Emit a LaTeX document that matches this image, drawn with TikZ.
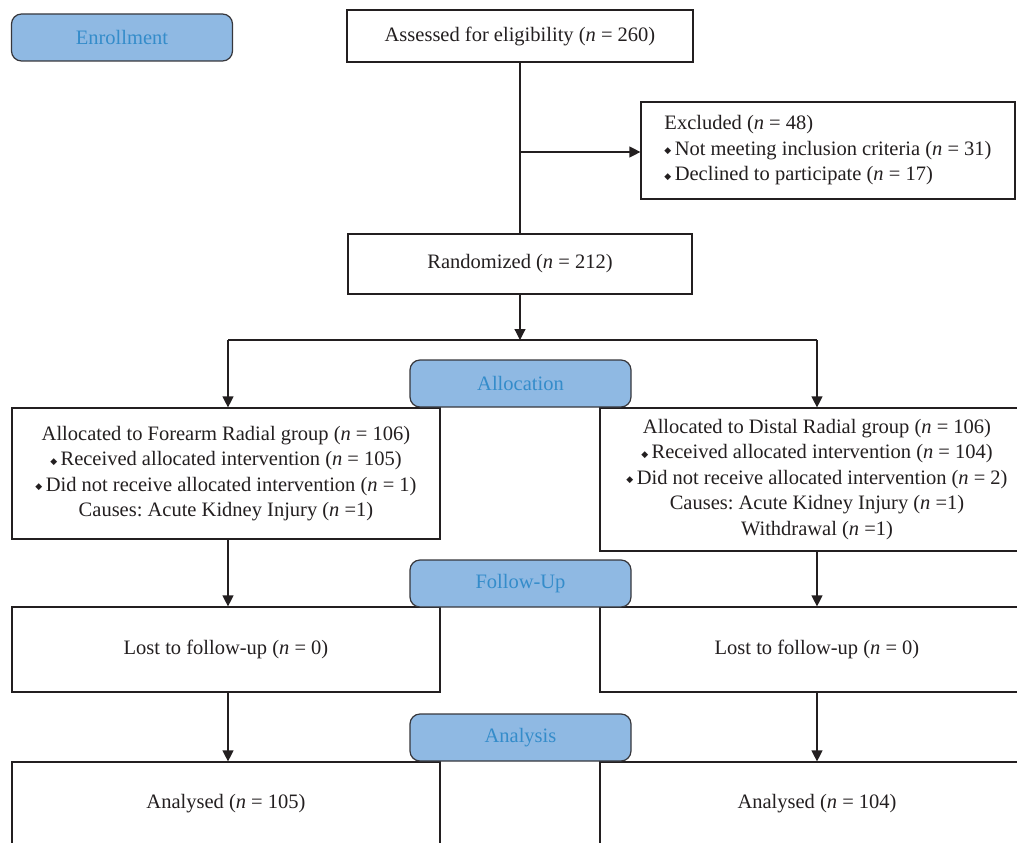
\documentclass[tikz,border=0pt]{standalone}
\usepackage{fontspec}
\setmainfont{Liberation Serif}
\newfontfamily\dejavu{DejaVu Sans}
\usetikzlibrary{arrows.meta}
\frenchspacing
\definecolor{stagefill}{RGB}{143,185,227}
\definecolor{stagetext}{RGB}{52,140,202}
\definecolor{stageline}{RGB}{55,55,60}
\definecolor{ink}{RGB}{35,31,32}
\newcommand{\dmd}{{\dejavu\fontsize{9}{9}\selectfont\raisebox{0.18em}{◆}}\,}
\begin{document}
\begin{tikzpicture}[x=1pt,y=-1pt,
  every node/.style={font=\fontsize{20.5}{25.5}\selectfont, text=ink},
  box/.style={draw=ink, line width=1.2pt, fill=white, inner sep=0pt, align=center},
  stage/.style={draw=stageline, line width=1.2pt, fill=stagefill, rounded corners=10pt,
    minimum width=221pt, minimum height=47pt, inner sep=0pt, text=stagetext,
    font=\fontsize{20.5}{24}\selectfont},
  conn/.style={draw=ink, line width=1.2pt},
  arr/.style={conn, -{Triangle[width=11pt,length=11pt]}}]
\useasboundingbox (0,0) rectangle (1017,843);
% plain boxes
\node[box, minimum width=346pt, minimum height=52pt] (assess) at (520,36) {Assessed for eligibility (\textit{n} = 260)};
\node[box, minimum width=374pt, minimum height=97pt, align=left] (excl) at (828,150.5)
  {Excluded (\textit{n} = 48)\\ \dmd Not meeting inclusion criteria (\textit{n} = 31)\\ \dmd Declined to participate (\textit{n} = 17)};
\node[box, minimum width=344pt, minimum height=60pt] (rand) at (520,264) {Randomized (\textit{n} = 212)};
\node[box, minimum width=428pt, minimum height=131pt] (left1) at (226,473.5)
  {Allocated to Forearm Radial group (\textit{n} = 106)\\
   \dmd Received allocated intervention (\textit{n} = 105)\\
   \dmd Did not receive allocated intervention (\textit{n} = 1)\\
   Causes: Acute Kidney Injury (\textit{n} =1)};
\node[box, minimum width=434pt, minimum height=143pt] (right1) at (817,479.5)
  {Allocated to Distal Radial group (\textit{n} = 106)\\
   \dmd Received allocated intervention (\textit{n} = 104)\\
   \dmd Did not receive allocated intervention (\textit{n} = 2)\\
   Causes: Acute Kidney Injury (\textit{n} =1)\\
   Withdrawal (\textit{n} =1)};
\node[box, minimum width=428pt, minimum height=85pt] (left2) at (226,649.5) {Lost to follow-up (\textit{n} = 0)};
\node[box, minimum width=434pt, minimum height=85pt] (right2) at (817,649.5) {Lost to follow-up (\textit{n} = 0)};
\node[box, minimum width=428pt, minimum height=84pt] (left3) at (226,804) {Analysed (\textit{n} = 105)};
\node[box, minimum width=434pt, minimum height=84pt] (right3) at (817,804) {Analysed (\textit{n} = 104)};
% stage labels
\node[stage] (enroll) at (122,37.5) {Enrollment};
\node[stage] (alloc) at (520.5,383.5) {Allocation};
\node[stage] (follow) at (520.5,583.5) {Follow-Up};
\node[stage] (analysis) at (520.5,737.5) {Analysis};
% connectors
\coordinate (branch) at (520,152);
\coordinate (split) at (520,340);
\coordinate (splitL) at (228,340);
\coordinate (splitR) at (817,340);
\draw[conn] (assess.south) -- (rand.north);
\draw[arr] (branch) -- (branch -| excl.west);
\draw[arr] (rand.south) -- (split);
\draw[conn] (splitL) -- (splitR);
\draw[arr] (splitL) -- (splitL |- left1.north);
\draw[arr] (splitR) -- (splitR |- right1.north);
\draw[arr] (splitL |- left1.south) -- (splitL |- left2.north);
\draw[arr] (splitR |- right1.south) -- (splitR |- right2.north);
\draw[arr] (splitL |- left2.south) -- (splitL |- left3.north);
\draw[arr] (splitR |- right2.south) -- (splitR |- right3.north);
\end{tikzpicture}
\end{document}
